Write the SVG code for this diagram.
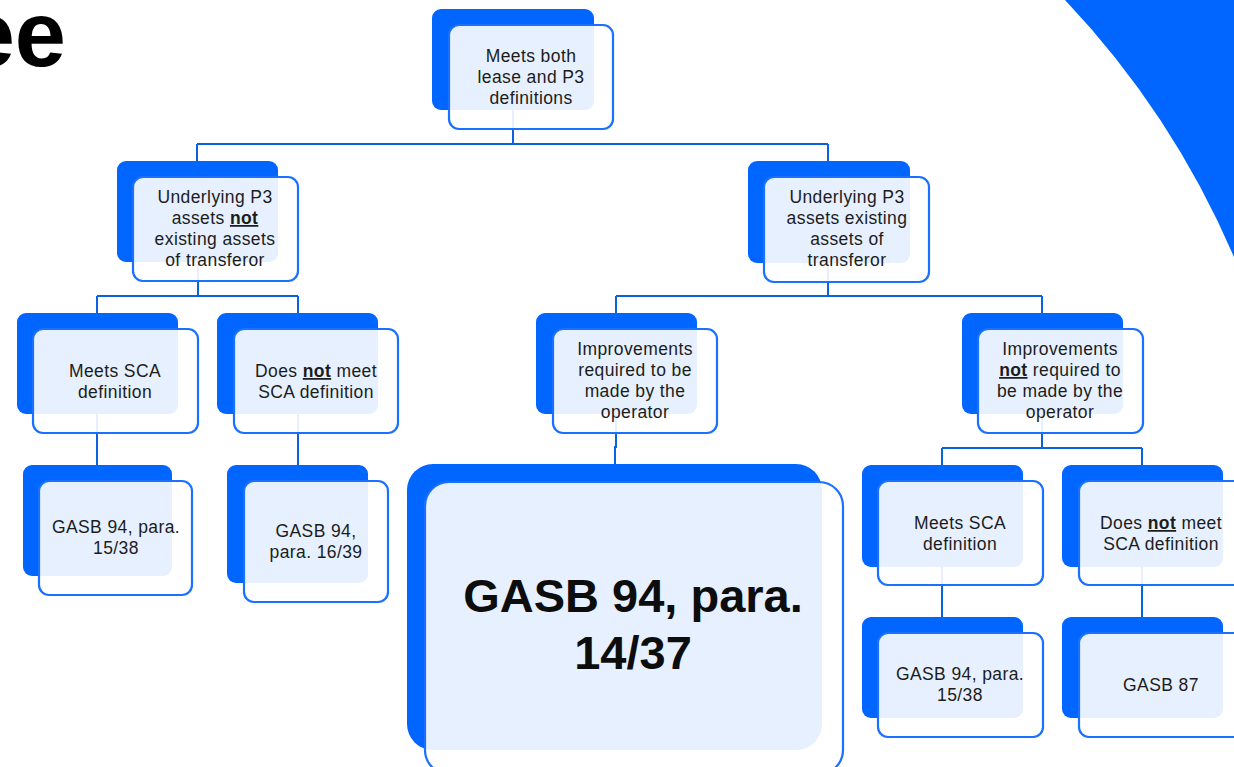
<svg xmlns="http://www.w3.org/2000/svg" width="1234" height="767" viewBox="0 0 1234 767">
  <style>
    .back { fill: #0066ff; }
    .front { fill: #ffffff; fill-opacity: 0.9; stroke: #1a70ff; stroke-width: 2.2; }
    .lbl { font-family: "Liberation Sans", Arial, sans-serif; font-size: 17.5px; letter-spacing: 0.4px; fill: #1c1c1c; text-anchor: middle; }
    .big { font-family: "Liberation Sans", Arial, sans-serif; font-size: 47px; font-weight: bold; fill: #0d0d0d; text-anchor: middle; }
    .em { font-weight: bold; text-decoration: underline; }
    .wire { fill: none; stroke: #0a62e0; stroke-width: 2; }
  </style>

  <!-- decorative corner arc -->
  <path d="M1065,0 A876,876 0 0 1 1234,257 L1234,0 Z" fill="#0066ff"/>

  <!-- heading fragment, running off the left edge -->
  <text x="66" y="66" font-family="'Liberation Sans', Arial, sans-serif" font-size="92" font-weight="bold" fill="#000" text-anchor="end">ee</text>

  <!-- connectors -->
  <g id="connectors" class="wire">
    <path d="M513,110 V144 M197,144 H828 M197,144 V161 M828,144 V161"/>
    <path d="M198,262 V296 M97,296 H298 M97,296 V313 M298,296 V313"/>
    <path d="M828,263 V296 M616,296 H1042 M616,296 V313 M1042,296 V313"/>
    <path d="M97,414 V465 M298,414 V465"/>
    <path d="M616,414 V447 H615 V464"/>
    <path d="M1042,414 V448 M942,448 H1142 M942,448 V465 M1142,448 V465"/>
    <path d="M942,567 V617 M1142,567 V617"/>
  </g>

  <g id="n-root">
    <rect class="back" x="432" y="9" width="162" height="101" rx="9"/>
    <rect class="front" x="449" y="25" width="164" height="104" rx="10"/>
    <text class="lbl"><tspan x="531" y="62">Meets both</tspan><tspan x="531" y="83">lease and P3</tspan><tspan x="531" y="104">definitions</tspan></text>
  </g>

  <g id="n-not-existing">
    <rect class="back" x="117" y="161" width="161" height="101" rx="9"/>
    <rect class="front" x="133" y="177" width="165" height="104" rx="10"/>
    <text class="lbl"><tspan x="215" y="203">Underlying P3</tspan><tspan x="215" y="224">assets <tspan class="em">not</tspan></tspan><tspan x="215" y="245">existing assets</tspan><tspan x="215" y="266">of transferor</tspan></text>
  </g>

  <g id="n-existing">
    <rect class="back" x="748" y="161" width="162" height="102" rx="9"/>
    <rect class="front" x="764" y="177" width="165" height="105" rx="10"/>
    <text class="lbl"><tspan x="847" y="203">Underlying P3</tspan><tspan x="847" y="224">assets existing</tspan><tspan x="847" y="245">assets of</tspan><tspan x="847" y="266">transferor</tspan></text>
  </g>

  <g id="n-sca-a">
    <rect class="back" x="17" y="313" width="161" height="101" rx="9"/>
    <rect class="front" x="33" y="329" width="165" height="104" rx="10"/>
    <text class="lbl"><tspan x="115" y="377">Meets SCA</tspan><tspan x="115" y="398">definition</tspan></text>
  </g>

  <g id="n-nosca-a">
    <rect class="back" x="217" y="313" width="161" height="101" rx="9"/>
    <rect class="front" x="234" y="329" width="164" height="104" rx="10"/>
    <text class="lbl"><tspan x="316" y="377">Does <tspan class="em">not</tspan> meet</tspan><tspan x="316" y="398">SCA definition</tspan></text>
  </g>

  <g id="n-improve-req">
    <rect class="back" x="536" y="313" width="161" height="101" rx="9"/>
    <rect class="front" x="553" y="329" width="164" height="104" rx="10"/>
    <text class="lbl"><tspan x="635" y="355">Improvements</tspan><tspan x="635" y="376">required to be</tspan><tspan x="635" y="397">made by the</tspan><tspan x="635" y="418">operator</tspan></text>
  </g>

  <g id="n-improve-notreq">
    <rect class="back" x="962" y="313" width="161" height="101" rx="9"/>
    <rect class="front" x="978" y="329" width="165" height="104" rx="10"/>
    <text class="lbl"><tspan x="1060" y="355">Improvements</tspan><tspan x="1060" y="376"><tspan class="em">not</tspan> required to</tspan><tspan x="1060" y="397">be made by the</tspan><tspan x="1060" y="418">operator</tspan></text>
  </g>

  <g id="n-gasb94-15a">
    <rect class="back" x="23" y="465" width="149" height="111" rx="9"/>
    <rect class="front" x="39" y="481" width="153" height="114" rx="10"/>
    <text class="lbl"><tspan x="116" y="533">GASB 94, para.</tspan><tspan x="116" y="554">15/38</tspan></text>
  </g>

  <g id="n-gasb94-16">
    <rect class="back" x="227" y="465" width="141" height="118" rx="9"/>
    <rect class="front" x="244" y="481" width="144" height="121" rx="10"/>
    <text class="lbl"><tspan x="316" y="537">GASB 94,</tspan><tspan x="316" y="558">para. 16/39</tspan></text>
  </g>

  <g id="n-gasb94-14">
    <rect class="back" x="407" y="464" width="415" height="286" rx="26"/>
    <rect class="front" x="425" y="482" width="418" height="292" rx="24"/>
    <text class="big"><tspan x="633" y="612">GASB 94, para.</tspan><tspan x="633" y="669">14/37</tspan></text>
  </g>

  <g id="n-sca-b">
    <rect class="back" x="862" y="465" width="161" height="102" rx="9"/>
    <rect class="front" x="878" y="481" width="165" height="104" rx="10"/>
    <text class="lbl"><tspan x="960" y="529">Meets SCA</tspan><tspan x="960" y="550">definition</tspan></text>
  </g>

  <g id="n-nosca-b">
    <rect class="back" x="1062" y="465" width="161" height="102" rx="9"/>
    <rect class="front" x="1079" y="481" width="165" height="104" rx="10"/>
    <text class="lbl"><tspan x="1161" y="529">Does <tspan class="em">not</tspan> meet</tspan><tspan x="1161" y="550">SCA definition</tspan></text>
  </g>

  <g id="n-gasb94-15b">
    <rect class="back" x="862" y="617" width="161" height="101" rx="9"/>
    <rect class="front" x="878" y="633" width="165" height="104" rx="10"/>
    <text class="lbl"><tspan x="960" y="680">GASB 94, para.</tspan><tspan x="960" y="701">15/38</tspan></text>
  </g>

  <g id="n-gasb87">
    <rect class="back" x="1062" y="617" width="161" height="101" rx="9"/>
    <rect class="front" x="1079" y="633" width="165" height="104" rx="10"/>
    <text class="lbl"><tspan x="1161" y="691">GASB 87</tspan></text>
  </g>
</svg>
